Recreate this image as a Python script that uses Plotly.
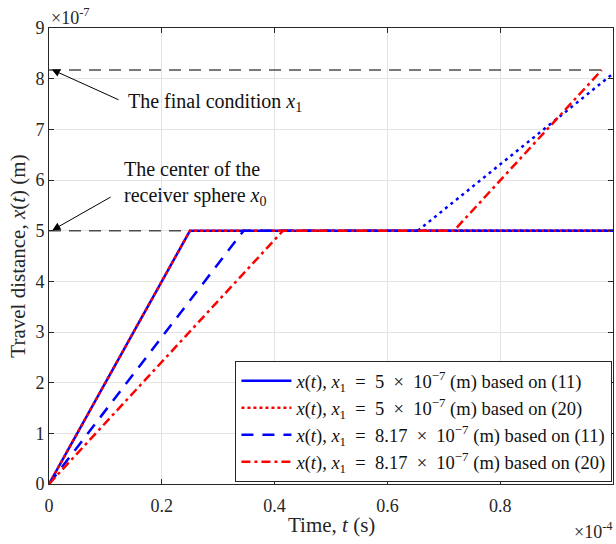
import plotly.graph_objects as go

# time in units of 1e-4 s, distance in units of 1e-7 m
t_a = [0, 0.25, 1.0]
x_a = [0, 5, 5]
t_b = [0, 0.25, 1.0]
x_b = [0, 5, 5]
t_c = [0, 0.345, 0.654]
x_c = [0, 5, 5]
t_c2 = [0.654, 1.0]
x_c2 = [5, 8.1]
t_c3 = [0.654, 1.0]
x_c3 = [5, 5]
t_d = [0, 0.415, 0.718, 0.98]
x_d = [0, 5, 5, 8.17]

ref_x0 = 5
ref_x1 = 8.17
ref_t_x0 = [0, 1.0]
ref_t_x1 = [0, 0.98]

x_ticks = [0, 0.2, 0.4, 0.6, 0.8, 1]
x_tick_text = ["0", "0.2", "0.4", "0.6", "0.8", "1"]
y_ticks = list(range(0, 10))

SP = "\u2002"
legend_names = [
    f"<i>x</i>(<i>t</i>), <i>x</i><sub>1</sub>{SP}={SP}5{SP}×{SP}10<sup>−7</sup> (m) based on (11)",
    f"<i>x</i>(<i>t</i>), <i>x</i><sub>1</sub>{SP}={SP}5{SP}×{SP}10<sup>−7</sup> (m) based on (20)",
    f"<i>x</i>(<i>t</i>), <i>x</i><sub>1</sub>{SP}={SP}8.17{SP}×{SP}10<sup>−7</sup> (m) based on (11)",
    f"<i>x</i>(<i>t</i>), <i>x</i><sub>1</sub>{SP}={SP}8.17{SP}×{SP}10<sup>−7</sup> (m) based on (20)",
]

FONT = "Liberation Serif"
BLUE = "#0000ff"
RED = "#ff0000"

fig = go.Figure()

# reference dashed lines
fig.add_trace(go.Scatter(x=ref_t_x0, y=[ref_x0, ref_x0], mode="lines",
                         line=dict(color="#4d4d4d", width=1.5, dash="12px,8px"),
                         showlegend=False, hoverinfo="skip"))
fig.add_trace(go.Scatter(x=ref_t_x1, y=[ref_x1, ref_x1], mode="lines",
                         line=dict(color="#4d4d4d", width=1.5, dash="12px,8px"),
                         showlegend=False, hoverinfo="skip"))

fig.add_trace(go.Scatter(x=t_a, y=x_a, mode="lines", name=legend_names[0],
                         line=dict(color=BLUE, width=2.5)))
fig.add_trace(go.Scatter(x=t_b, y=x_b, mode="lines", name=legend_names[1],
                         line=dict(color=RED, width=2.5, dash="3px,3px")))
fig.add_trace(go.Scatter(x=t_c, y=x_c, mode="lines", name=legend_names[2],
                         line=dict(color=BLUE, width=2.5, dash="12px,9px")))
fig.add_trace(go.Scatter(x=t_c3, y=x_c3, mode="lines", showlegend=False,
                         line=dict(color=BLUE, width=2.5, dash="3px,3px")))
fig.add_trace(go.Scatter(x=t_c2, y=x_c2, mode="lines", showlegend=False,
                         line=dict(color=BLUE, width=2.5, dash="3px,4px")))
fig.add_trace(go.Scatter(x=t_d, y=x_d, mode="lines", name=legend_names[3],
                         line=dict(color=RED, width=2.5, dash="9px,4px,3px,4px")))

axis_common = dict(
    showgrid=True, gridcolor="#e3e3e3", gridwidth=1,
    zeroline=False, showline=True, linecolor="#262626", linewidth=1,
    mirror="ticks", ticks="inside", ticklen=5, tickcolor="#262626",
    tickfont=dict(family=FONT, size=18, color="#262626"),
)

fig.update_layout(
    width=616, height=544,
    margin=dict(l=49, r=3, t=28, b=60),
    paper_bgcolor="white", plot_bgcolor="white",
    font=dict(family=FONT, color="#262626"),
    xaxis=dict(range=[0, 1], tickvals=x_ticks, ticktext=x_tick_text,
               ticklabelstandoff=5, **axis_common),
    yaxis=dict(range=[0, 9], tickvals=y_ticks,
               title=dict(text="Travel distance, <i>x</i>(<i>t</i>) (m)", font=dict(family=FONT, size=21), standoff=4),
               **axis_common),
    legend=dict(x=0.999, y=0.004, xanchor="right", yanchor="bottom",
                bgcolor="white", bordercolor="#262626", borderwidth=1,
                font=dict(family=FONT, size=18.5, color="#111111"),
                tracegroupgap=0, itemwidth=50),
    showlegend=True,
)

# x-axis title
fig.add_annotation(xref="paper", yref="paper", x=0.5, y=0.0, xanchor="center", yanchor="middle",
                   text="Time, <i>t</i> (s)", showarrow=False,
                   font=dict(family=FONT, size=21, color="#262626"), yshift=-41)

# exponent labels
fig.add_annotation(xref="paper", yref="paper", x=0.0, y=1.0, xanchor="left", yanchor="bottom",
                   text="×10<sup>-7</sup>", showarrow=False,
                   font=dict(family=FONT, size=18, color="#262626"), yshift=-2)
fig.add_annotation(xref="paper", yref="paper", x=1.0, y=0.0, xanchor="right", yanchor="top",
                   text="×10<sup>-4</sup>", showarrow=False,
                   font=dict(family=FONT, size=18, color="#262626"), yshift=-33, xshift=2)

# arrows
fig.add_annotation(x=0.005, y=8.18, ax=0.126, ay=7.57, xref="x", yref="y", axref="x", ayref="y",
                   text="", showarrow=True, arrowhead=2, arrowsize=1.6, arrowwidth=1, arrowcolor="black")
fig.add_annotation(x=0.137, y=7.53, xref="x", yref="y", xanchor="left", yanchor="middle",
                   text="The final condition <i>x</i><sub>1</sub>", showarrow=False,
                   font=dict(family=FONT, size=20, color="#111111"))
fig.add_annotation(x=0.006, y=5.01, ax=0.112, ay=5.68, xref="x", yref="y", axref="x", ayref="y",
                   text="", showarrow=True, arrowhead=2, arrowsize=1.6, arrowwidth=1, arrowcolor="black")
fig.add_annotation(x=0.129, y=5.93, xref="x", yref="y", xanchor="left", yanchor="middle", align="left",
                   text="The center of the<br>receiver sphere <i>x</i><sub>0</sub>", showarrow=False,
                   font=dict(family=FONT, size=20, color="#111111"))

fig.write_html("out.html")
